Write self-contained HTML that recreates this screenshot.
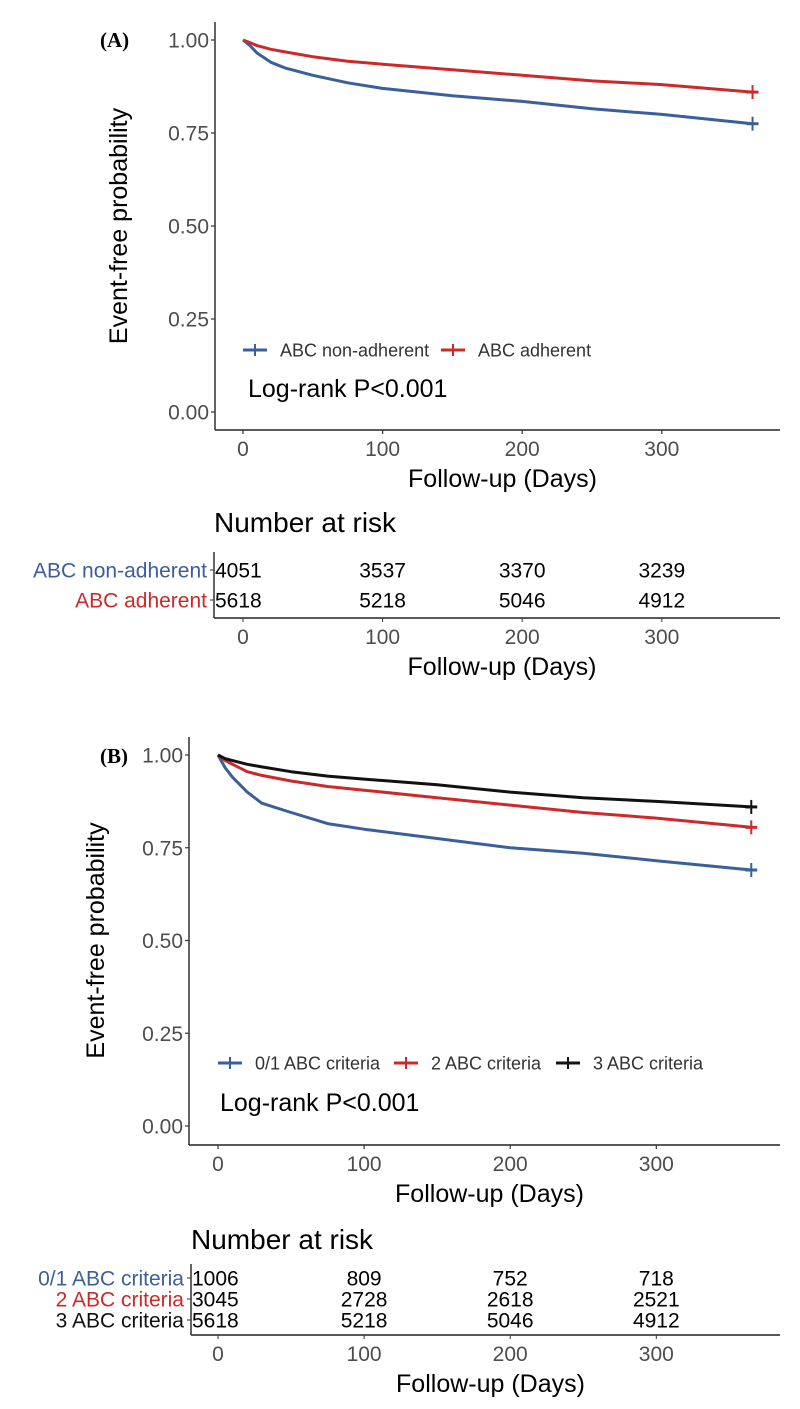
<!DOCTYPE html>
<html><head><meta charset="utf-8"><style>
html,body{margin:0;padding:0;background:#fff;}
svg{display:block;font-family:"Liberation Sans",Arial,sans-serif;}
</style></head><body>
<svg id="fig" width="800" height="1409" viewBox="0 0 800 1409" xmlns="http://www.w3.org/2000/svg"></svg>
<script>
// ---- Panel A data ----
const daysA = [0, 5, 10, 20, 30, 50, 75, 100, 150, 200, 250, 300, 365];
const survA_non = [1, 0.985, 0.965, 0.94, 0.925, 0.905, 0.885, 0.87, 0.85, 0.835, 0.815, 0.80, 0.775];
const survA_adh = [1, 0.993, 0.985, 0.975, 0.968, 0.955, 0.943, 0.935, 0.92, 0.905, 0.89, 0.88, 0.86];
const groupsA = ["ABC non-adherent", "ABC adherent"];
const riskA_non = [4051, 3537, 3370, 3239];
const riskA_adh = [5618, 5218, 5046, 4912];
// ---- Panel B data ----
const daysB = [0, 5, 10, 20, 30, 50, 75, 100, 150, 200, 250, 300, 365];
const survB_01 = [1, 0.965, 0.94, 0.9, 0.87, 0.845, 0.815, 0.80, 0.775, 0.75, 0.735, 0.715, 0.69];
const survB_2 = [1, 0.985, 0.975, 0.955, 0.945, 0.93, 0.915, 0.905, 0.885, 0.865, 0.845, 0.83, 0.805];
const survB_3 = [1, 0.99, 0.985, 0.975, 0.968, 0.955, 0.943, 0.935, 0.92, 0.9, 0.885, 0.875, 0.86];
const groupsB = ["0/1 ABC criteria", "2 ABC criteria", "3 ABC criteria"];
const riskB_01 = [1006, 809, 752, 718];
const riskB_2 = [3045, 2728, 2618, 2521];
const riskB_3 = [5618, 5218, 5046, 4912];
const xTicks = [0, 100, 200, 300];
const yTicks = [0, 0.25, 0.5, 0.75, 1];
const yTickLabels = ["0.00", "0.25", "0.50", "0.75", "1.00"];

const BLUE = "#3a5f9a", RED = "#cc2a2a", BLACK = "#111";
const NS = "http://www.w3.org/2000/svg";
const svg = document.getElementById('fig');
function el(tag, attrs, parent, text){
  const e = document.createElementNS(NS, tag);
  for (const k in attrs) e.setAttribute(k, attrs[k]);
  if (text !== undefined) e.textContent = text;
  (parent || svg).appendChild(e);
  return e;
}

function panel(cfg){
  const g = el('g', {});
  
  
  const xs = d => cfg.x0 + d * cfg.kx;
  const ys = v => cfg.y0 - v * cfg.ky;
  const pl = el('text', {x: cfg.labelX, y: cfg.labelY, 'font-family': '"Liberation Serif",serif', 'font-weight': 'bold', 'font-size': 21, fill: '#000'}, g, cfg.label);
  
  
  const ya = el('line', {x1: cfg.axX, y1: cfg.axTop, x2: cfg.axX, y2: cfg.axY, stroke: '#222', 'stroke-width': 1.4}, g);
  
  
  const xa = el('line', {x1: cfg.axX, y1: cfg.axY, x2: 780, y2: cfg.axY, stroke: '#222', 'stroke-width': 1.4}, g);
  
  
  yTicks.forEach((t, i) => {
    el('line', {x1: cfg.axX - 4, x2: cfg.axX, y1: ys(t), y2: ys(t), stroke: '#333', 'stroke-width': 1.2}, g);
    const tl = el('text', {x: cfg.axX - 6, y: ys(t) + 7.5, 'text-anchor': 'end', 'font-size': 21, fill: '#4d4d4d'}, g, yTickLabels[i]);
    
    
  });
  xTicks.forEach(t => {
    el('line', {x1: xs(t), x2: xs(t), y1: cfg.axY, y2: cfg.axY + 4, stroke: '#333', 'stroke-width': 1.2}, g);
    const tl = el('text', {x: xs(t), y: cfg.axY + 26, 'text-anchor': 'middle', 'font-size': 21, fill: '#4d4d4d'}, g, String(t));
    
    
  });
  const yt = el('text', {x: 0, y: 0, 'text-anchor': 'middle', 'font-size': 25, fill: '#000', transform: `translate(${cfg.yTitleX},${(ys(1)+ys(0))/2}) rotate(-90)`}, g, 'Event-free probability');
  
  
  const xt = el('text', {x: (cfg.axX + 780) / 2 + 5, y: cfg.axY + 57, 'text-anchor': 'middle', 'font-size': 25, fill: '#000'}, g, 'Follow-up (Days)');
  
  
  cfg.series.forEach(s => {
    let pts = [];
    for (let i = 0; i < cfg.days.length; i++) pts.push(xs(cfg.days[i]).toFixed(1) + ',' + ys(s.vals[i]).toFixed(1));
    const pl2 = el('polyline', {points: pts.join(' '), fill: 'none', stroke: s.color, 'stroke-width': 3, 'stroke-linejoin': 'round'}, g);
    
    
    const ex = xs(cfg.days[cfg.days.length - 1]), ey = ys(s.vals[s.vals.length - 1]);
    el('line', {x1: ex, x2: ex, y1: ey - 7, y2: ey + 7, stroke: s.color, 'stroke-width': 2}, g);
    el('line', {x1: ex - 6, x2: ex + 6, y1: ey, y2: ey, stroke: s.color, 'stroke-width': 3}, g);
  });
  let lx = cfg.legX;
  cfg.series.forEach(s => {
    const lg = el('g', {}, g);
    
    
    el('line', {x1: lx, x2: lx + 24, y1: cfg.legY, y2: cfg.legY, stroke: s.color, 'stroke-width': 3}, lg);
    el('line', {x1: lx + 12, x2: lx + 12, y1: cfg.legY - 6, y2: cfg.legY + 6, stroke: s.color, 'stroke-width': 2}, lg);
    el('text', {x: lx + 37, y: cfg.legY + 6.5, 'font-size': 18, fill: '#333'}, lg, s.label);
    lx += s.legW;
  });
  const lr = el('text', {x: cfg.logX, y: cfg.logY, 'font-size': 25, fill: '#000'}, g, 'Log-rank P<0.001');
  
  

  const r = cfg.risk;
  const rt = el('g', {}, g);
  
  
  const nt = el('text', {x: r.axX, y: r.titleY, 'font-size': 28, fill: '#000'}, rt, 'Number at risk');
  
  
  el('line', {x1: r.axX, y1: r.top, x2: r.axX, y2: r.axY, stroke: '#222', 'stroke-width': 1.4}, rt);
  el('line', {x1: r.axX, y1: r.axY, x2: 780, y2: r.axY, stroke: '#222', 'stroke-width': 1.4}, rt);
  r.rows.forEach((row, ri) => {
    const yy = r.rowY[ri];
    el('line', {x1: r.axX - 4, x2: r.axX, y1: yy, y2: yy, stroke: '#333'}, rt);
    const lab = el('text', {x: r.axX - 7, y: yy + 7.5, 'text-anchor': 'end', 'font-size': r.fs, fill: row.color}, rt, row.label);
    
    
    row.vals.forEach((v, i) => {
      const first = i === 0;
      const t = el('text', {x: first ? r.axX + 1 : xs(xTicks[i]), y: yy + 7.5, 'text-anchor': first ? 'start' : 'middle', 'font-size': r.fs, fill: '#000'}, rt, String(v));
      
      
    });
  });
  xTicks.forEach(t => {
    el('line', {x1: xs(t), x2: xs(t), y1: r.axY, y2: r.axY + 4, stroke: '#333'}, rt);
    el('text', {x: xs(t), y: r.axY + 26, 'text-anchor': 'middle', 'font-size': 21, fill: '#4d4d4d'}, rt, String(t));
  });
  el('text', {x: (r.axX + 780) / 2 + 5, y: r.axY + 57, 'text-anchor': 'middle', 'font-size': 25, fill: '#000'}, rt, 'Follow-up (Days)');
}

panel({
  name: 'panel-a', label: '(A)', labelX: 100, labelY: 47,
  x0: 243, kx: 1.396, y0: 412, ky: 372, axX: 215, axTop: 22, axY: 430, yTitleX: 127,
  days: daysA,
  series: [
    {id: 'non-adherent', label: groupsA[0], vals: survA_non, color: BLUE, legW: 198},
    {id: 'adherent', label: groupsA[1], vals: survA_adh, color: RED, legW: 180}
  ],
  legX: 243, legY: 350, logX: 248, logY: 397,
  risk: {axX: 214, top: 552, axY: 618, titleY: 532, rowY: [570, 600], fs: 21,
    rows: [{label: groupsA[0], color: BLUE, vals: riskA_non}, {label: groupsA[1], color: RED, vals: riskA_adh}]}
});

panel({
  name: 'panel-b', label: '(B)', labelX: 100, labelY: 763,
  x0: 218, kx: 1.461, y0: 1126, ky: 371, axX: 189, axTop: 737, axY: 1145, yTitleX: 104,
  days: daysB,
  series: [
    {id: 'criteria-0-1', label: groupsB[0], vals: survB_01, color: BLUE, legW: 176},
    {id: 'criteria-2', label: groupsB[1], vals: survB_2, color: RED, legW: 162},
    {id: 'criteria-3', label: groupsB[2], vals: survB_3, color: BLACK, legW: 160}
  ],
  legX: 218, legY: 1063, logX: 220, logY: 1111,
  risk: {axX: 191, top: 1264, axY: 1335, titleY: 1249, rowY: [1278, 1299, 1320], fs: 21,
    rows: [{label: groupsB[0], color: BLUE, vals: riskB_01}, {label: groupsB[1], color: RED, vals: riskB_2}, {label: groupsB[2], color: BLACK, vals: riskB_3}]}
});
</script>
</body></html>
